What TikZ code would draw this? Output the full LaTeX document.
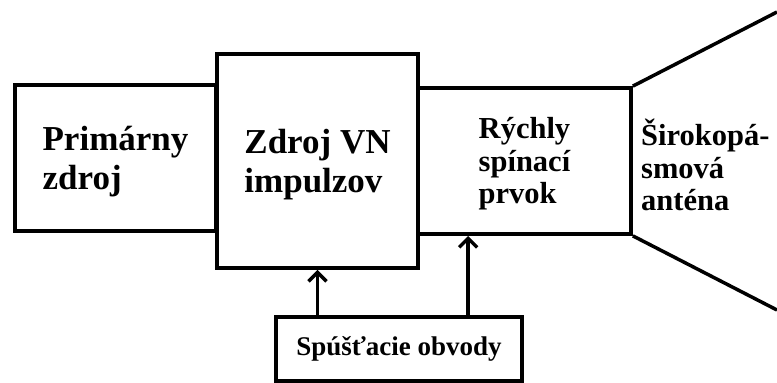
\documentclass[tikz,border=0pt]{standalone}
\usepackage{fontspec}
\setmainfont{Liberation Serif}
\usepackage{tikz}
\usetikzlibrary{arrows.meta,positioning,calc}

\tikzset{
  blok/.style={draw,line width=3.8pt,inner sep=0pt,align=left,font=\bfseries},
  velky/.style={font=\bfseries\fontsize{35}{39}\selectfont},
  stredny/.style={font=\bfseries\fontsize{30.5}{32.5}\selectfont},
  maly/.style={font=\bfseries\fontsize{27}{30}\selectfont},
}

\begin{document}
\begin{tikzpicture}[x=1pt,y=-1pt,>={Straight Barb[length=9pt,width=18pt,line width=3.5pt]}]
        \useasboundingbox (0,0) rectangle (777,383);
        % bloky
        \node[blok,velky,minimum width=201pt,minimum height=146pt] (prim) at (115.5,158) {\rule{0pt}{31pt}Primárny\\zdroj};
        \node[blok,velky,minimum width=201pt,minimum height=214pt] (zdroj) at (317.5,161) {\rule{0pt}{31pt}Zdroj VN\\impulzov};
        \node[blok,stredny,minimum width=213pt,minimum height=146pt] (rych) at (524.5,161) {\rule{0pt}{27pt}Rýchly\\spínací\\prvok\hspace{10pt}};
        \node[blok,maly,minimum width=246pt,minimum height=64pt] (spust) at (399,349) {Spúšťacie obvody};
        % antena
        \coordinate (antHore) at (777,12);
        \coordinate (antDole) at (777,310);
        \draw[line width=3.5pt] (rych.north east)--(antHore);
        \draw[line width=3.5pt] (rych.south east)--(antDole);
        \node[stredny,anchor=west,align=left,inner sep=0pt] (ant) at (641,165) {Širokopá-\\smová\\anténa};
        % spustanie
        \coordinate (spRych) at ($(rych.south west)!0.24!(rych.south east)$);
        \draw[->,line width=3.5pt] (spust.north -| zdroj.south)--(zdroj.south);
        \draw[->,line width=3.5pt] (spust.north -| spRych)--(spRych);
      \end{tikzpicture}
\end{document}
